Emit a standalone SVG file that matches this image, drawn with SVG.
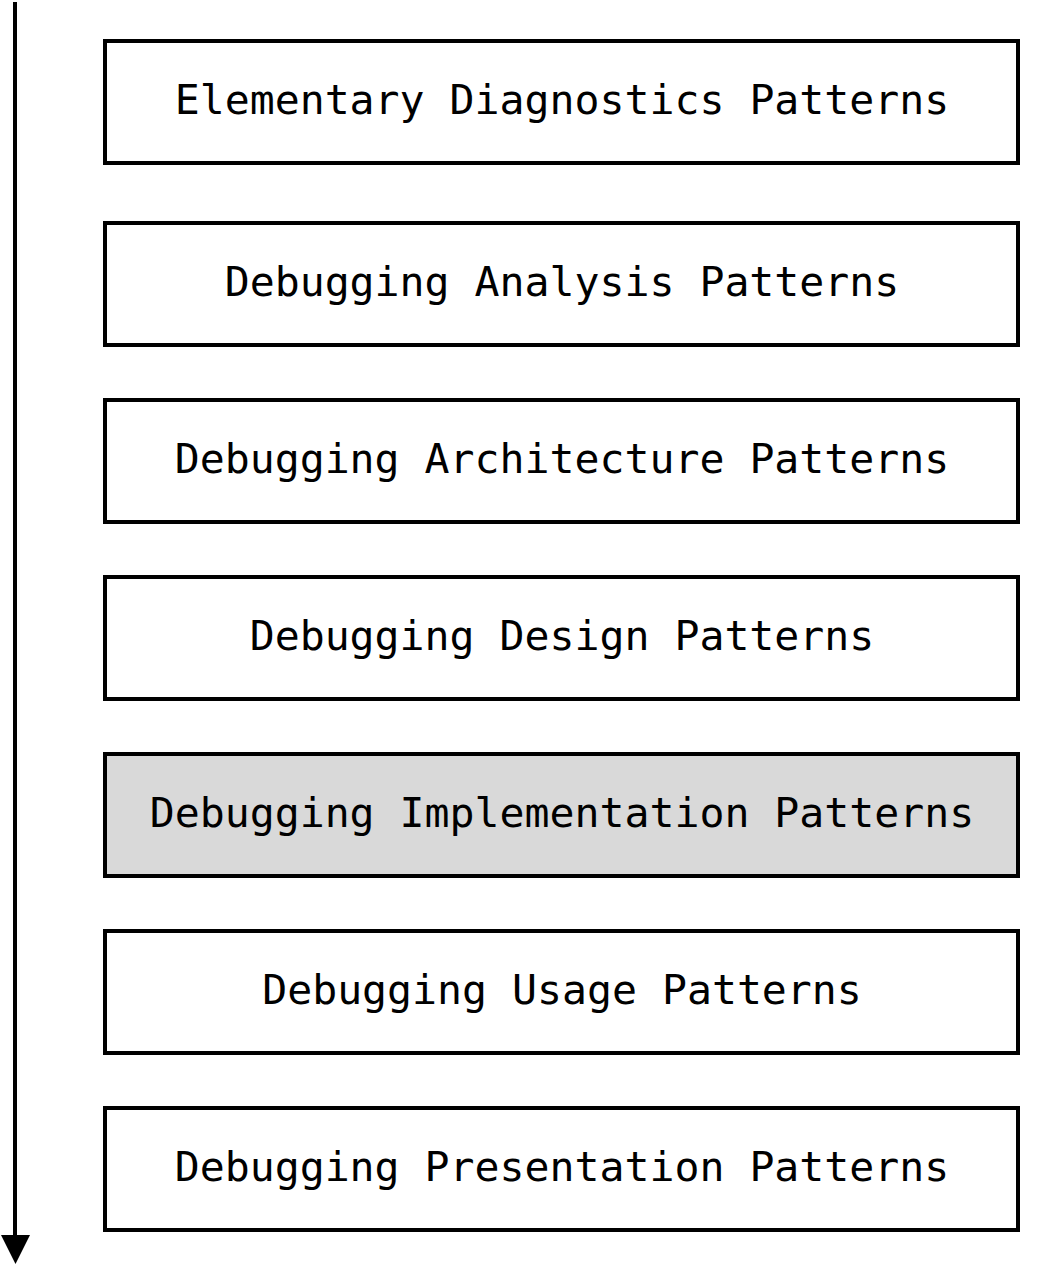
<svg xmlns="http://www.w3.org/2000/svg" width="1045" height="1266" viewBox="0 0 1045 1266">
<style>
.box{fill:#ffffff;stroke:#000000;stroke-width:4}
.hl{fill:#d9d9d9}
.lbl{font-family:"DejaVu Sans Mono","Liberation Mono",monospace;font-size:41.5px;fill:#000000;text-anchor:middle}
</style>
<rect x="0" y="0" width="1045" height="1266" fill="#ffffff"/>
<g id="connectors">
<line x1="15" y1="2" x2="15" y2="1238" stroke="#000" stroke-width="4"/>
<polygon points="1,1235 30,1235 15.5,1264" fill="#000"/>
</g>
<g id="n1"><rect class="box" x="105" y="41" width="913" height="122"/><text class="lbl" x="562" y="114">Elementary Diagnostics Patterns</text></g>
<g id="n2"><rect class="box" x="105" y="223" width="913" height="122"/><text class="lbl" x="562" y="296">Debugging Analysis Patterns</text></g>
<g id="n3"><rect class="box" x="105" y="400" width="913" height="122"/><text class="lbl" x="562" y="473">Debugging Architecture Patterns</text></g>
<g id="n4"><rect class="box" x="105" y="577" width="913" height="122"/><text class="lbl" x="562" y="650">Debugging Design Patterns</text></g>
<g id="n5"><rect class="box hl" x="105" y="754" width="913" height="122"/><text class="lbl" x="562" y="827">Debugging Implementation Patterns</text></g>
<g id="n6"><rect class="box" x="105" y="931" width="913" height="122"/><text class="lbl" x="562" y="1004">Debugging Usage Patterns</text></g>
<g id="n7"><rect class="box" x="105" y="1108" width="913" height="122"/><text class="lbl" x="562" y="1181">Debugging Presentation Patterns</text></g>
</svg>
